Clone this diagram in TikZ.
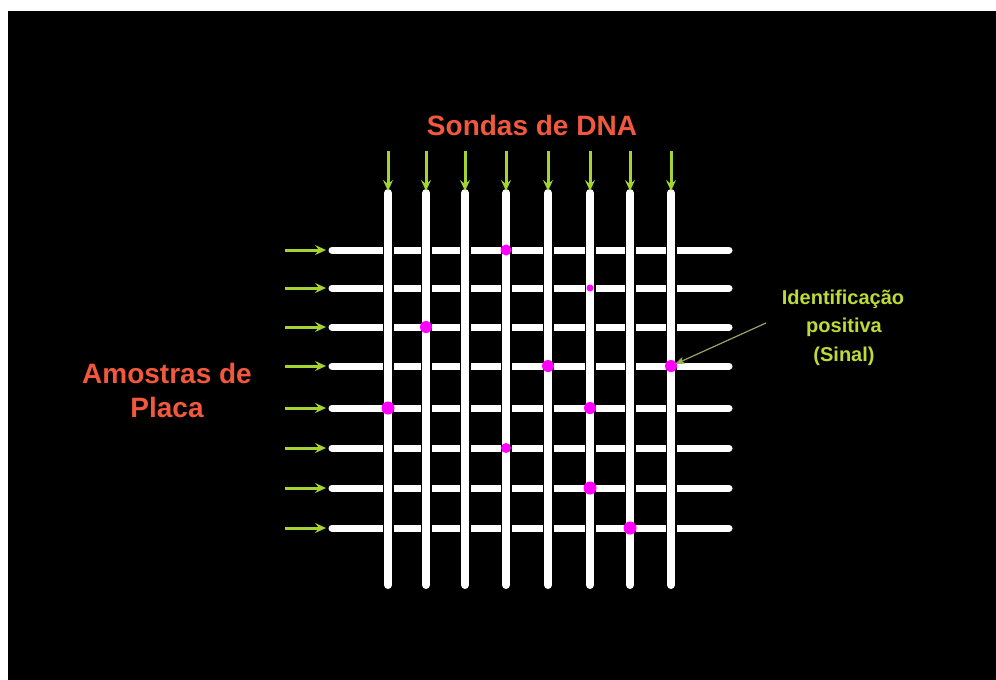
\documentclass[tikz,border=0pt]{standalone}
\usepackage{fontspec}
\setmainfont{Liberation Sans}
\usetikzlibrary{arrows.meta}
\definecolor{titlered}{RGB}{242,88,62}
\definecolor{arrowgreen}{RGB}{165,212,50}
\definecolor{notegreen}{RGB}{190,218,55}
\definecolor{dotmag}{RGB}{255,0,255}
\tikzset{
  hline/.style={white,line width=7pt,line cap=round},
  vback/.style={black,line width=11pt},
  vline/.style={white,line width=8pt,line cap=round},
  feed/.style={arrowgreen,line width=3pt,-{Stealth[length=11pt,width=10pt,inset=4pt]}},
  hit/.style={circle,fill=dotmag,inner sep=0pt,minimum size=#1},
  hit/.default=12pt,
  bigtitle/.style={text=titlered,font=\bfseries\fontsize{28}{34}\selectfont,anchor=base},
  note/.style={text=notegreen,font=\bfseries\fontsize{20}{28.5}\selectfont,align=center,anchor=base},
}
\begin{document}
\begin{tikzpicture}[x=1pt,y=-1pt]
\fill[white] (0,0) rectangle (996,680);
\useasboundingbox (0,0) rectangle (996,680);
\fill[black] (8,11) rectangle (996,680);
% rows
\foreach \y [count=\i] in {250,288,327,366,408,448,488,528}{
  \coordinate (hs\i) at (332,\y);
  \coordinate (he\i) at (729,\y);
  \coordinate (ha\i) at (285,\y);
  \coordinate (hb\i) at (326,\y);
  \draw[hline] (hs\i) -- (he\i);
  \draw[feed] (ha\i) -- (hb\i);
}
% columns
\foreach \x [count=\i] in {388,426,465,506,548,590,630,671}{
  \coordinate (vs\i) at (\x,193);
  \coordinate (ve\i) at (\x,585);
  \coordinate (va\i) at (\x,151);
  \coordinate (vb\i) at (\x,191);
  \draw[vback] (vs\i) -- (ve\i);
  \draw[vline] (vs\i) -- (ve\i);
  \draw[feed] (va\i) -- (vb\i);
}
% positive hits
\node[hit=11pt] (d1) at (506,250) {};
\node[hit=7pt] (d2) at (590,288) {};
\node[hit] (d3) at (426,327) {};
\node[hit] (d4) at (548,366) {};
\node[hit] (d5) at (671,366) {};
\node[hit=13pt] (d6) at (388,408) {};
\node[hit] (d7) at (590,408) {};
\node[hit=10pt] (d8) at (506,448) {};
\node[hit=13pt] (d9) at (590,488) {};
\node[hit=13pt] (d10) at (630,528) {};
% labels
\node[bigtitle] (sondas) at (532,135) {Sondas de DNA};
\node[bigtitle] (amostras) at (167,383) {Amostras de};
\node[bigtitle] (placa) at (167,417) {Placa};
\node[note] (l1) at (843,304) {Identificação};
\node[note] (l2) at (844,332) {positiva};
\node[note] (l3) at (844,361) {(Sinal)};
\coordinate (pt) at (766,323);
\draw[gray!60!notegreen,line width=1.2pt,-{Stealth[length=10pt,width=7pt,inset=2pt,fill=arrowgreen]},shorten >=4pt] (pt) -- (d5.center);
\end{tikzpicture}
\end{document}
